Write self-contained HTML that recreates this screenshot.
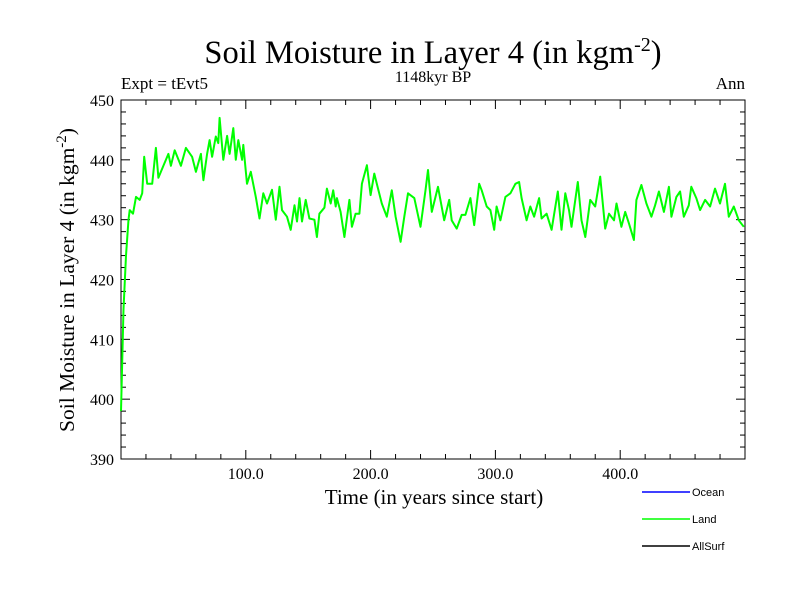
<!DOCTYPE html>
<html><head><meta charset="utf-8"><style>
body{margin:0;background:#fff}
svg{display:block}
text{font-family:"Liberation Serif",serif;fill:#000}
.leg{font-family:"Liberation Sans",sans-serif;font-size:11px}
</style></head><body>
<svg id="chart" width="800" height="600">
<text x="433" y="63" font-size="32.5" text-anchor="middle">Soil Moisture in Layer 4 (in kgm<tspan dy="-12" font-size="20">-2</tspan><tspan dy="12">)</tspan></text>
<text x="121" y="89" font-size="17">Expt = tEvt5</text>
<text x="433" y="82" font-size="16" text-anchor="middle">1148kyr BP</text>
<text x="745" y="89" font-size="17" text-anchor="end">Ann</text>
<text transform="translate(74,280) rotate(-90)" font-size="21.5" text-anchor="middle">Soil Moisture in Layer 4 (in kgm<tspan dy="-8" font-size="15">-2</tspan><tspan dy="8">)</tspan></text>
<text x="434" y="504" font-size="21" text-anchor="middle">Time (in years since start)</text>
<g id="axes"></g>
<g id="series"></g>
<g>
<line x1="642" y1="492" x2="690" y2="492" stroke="#0000ff" stroke-width="1.5"/>
<text class="leg" x="692" y="496">Ocean</text>
<line x1="642" y1="519" x2="690" y2="519" stroke="#00ff00" stroke-width="1.5"/>
<text class="leg" x="692" y="523">Land</text>
<line x1="642" y1="546" x2="690" y2="546" stroke="#000" stroke-width="1.5"/>
<text class="leg" x="692" y="550">AllSurf</text>
</g>
</svg>
<script>
const years=[0,2,4,6,7,9.6,12,15,17,18.6,21,25,28,30,34,38,40,43,48,52,57,60,64,66,69,71,73,76,78,79,82,85,87,90,92,94,97,98,101,104,108,111,114,117,121,124,127,129,133,136,139,141,143,145,148,151,155,157,159,163,165,168,170,172,173,176,179,183,185,188,191,193,197,200,203,205,209,213,217,220,224,227,230,235,240,244,246,249,254,259,263,265,269,273,276,280,283,287,289,293,296,299,301,304,308,312,316,319,321,325,328,331,335,337,341,345,350,353,356,359,361,366,369,372,376,380,384,388,391,395,397,401,404,407,411,413,417,421,425,428,431,435,439,441,445,448,451,455,457,461,464,468,472,476,480,484,487,491,495,499];
const values=[398,415,424,430,431.6,431,433.8,433.3,434.4,440.5,436,436,442,437,439,441,439,441.6,439,442,440.5,438,441,436.6,441,443.3,440.5,443.9,442.8,447,440,444,441,445.3,440,443.3,440,442.5,436,438,433.8,430.2,434.4,432.7,435,430,435.5,431.6,430.5,428.3,432.4,429.7,433.6,429.7,433.3,430.2,430,427.1,431,432,435.2,432.7,434.9,432.2,433.6,431.3,427.1,433.3,428.8,431,431,436,439.1,434.1,437.7,436,432.7,430.5,434.9,430.5,426.3,430.5,434.4,433.6,428.8,434.9,438.3,431.3,435.5,429.9,433.3,429.9,428.5,430.8,430.8,433.6,429.1,436,434.9,432.2,431.6,428.3,432.2,429.9,433.8,434.4,436,436.3,433.6,429.9,432.2,430.5,433.6,430.2,431,428.3,434.7,428.3,434.4,431.6,428.8,436.3,429.9,427.1,433.3,432.2,437.2,428.5,431,429.9,432.7,428.8,431.3,429.4,426.6,433.3,435.8,432.7,430.5,432.4,434.7,431.3,435.5,430.5,433.8,434.7,430.5,432.4,435.5,433.6,431.6,433.3,432.2,435.2,432.7,436,430.5,432.2,429.9,428.8];
const yTicks=[390,400,410,420,430,440,450];
const xTicks=[100,200,300,400];
const xLabels=["100.0","200.0","300.0","400.0"];
const L=121,R=745,T=100,B=459;
const xs=v=>L+(v/500)*(R-L);
const ys=v=>B-(v-390)/60*(B-T);
const NS="http://www.w3.org/2000/svg";
const ax=document.getElementById('axes');
function mk(t,a){const e=document.createElementNS(NS,t);for(const k in a)e.setAttribute(k,a[k]);return e;}
const frame=mk('rect',{x:L,y:T,width:R-L,height:B-T,fill:'none',stroke:'#000','stroke-width':1});


ax.appendChild(frame);
for(let v=390;v<=450;v+=2){const major=v%10===0;const len=major?9:5;const y=ys(v);
 ax.appendChild(mk('line',{x1:L,y1:y,x2:L+len,y2:y,stroke:'#000'}));
 ax.appendChild(mk('line',{x1:R,y1:y,x2:R-len,y2:y,stroke:'#000'}));}
for(let v=20;v<500;v+=20){const major=v%100===0;const len=major?9:5;const x=xs(v);
 ax.appendChild(mk('line',{x1:x,y1:B,x2:x,y2:B-len,stroke:'#000'}));
 ax.appendChild(mk('line',{x1:x,y1:T,x2:x,y2:T+len,stroke:'#000'}));}
yTicks.forEach(v=>{const t=mk('text',{x:L-7,y:ys(v)+6,'font-size':16,'text-anchor':'end'});t.textContent=v;
 
 
 ax.appendChild(t);});
xTicks.forEach((v,i)=>{const t=mk('text',{x:xs(v),y:B+20,'font-size':16,'text-anchor':'middle'});t.textContent=xLabels[i];
 
 
 ax.appendChild(t);});
const pts=years.map((yr,i)=>xs(yr).toFixed(1)+','+ys(values[i]).toFixed(1)).join(' ');
const line=mk('polyline',{points:pts,fill:'none',stroke:'#00ff00','stroke-width':2,'stroke-linejoin':'round'});


document.getElementById('series').appendChild(line);
</script>
</body></html>
